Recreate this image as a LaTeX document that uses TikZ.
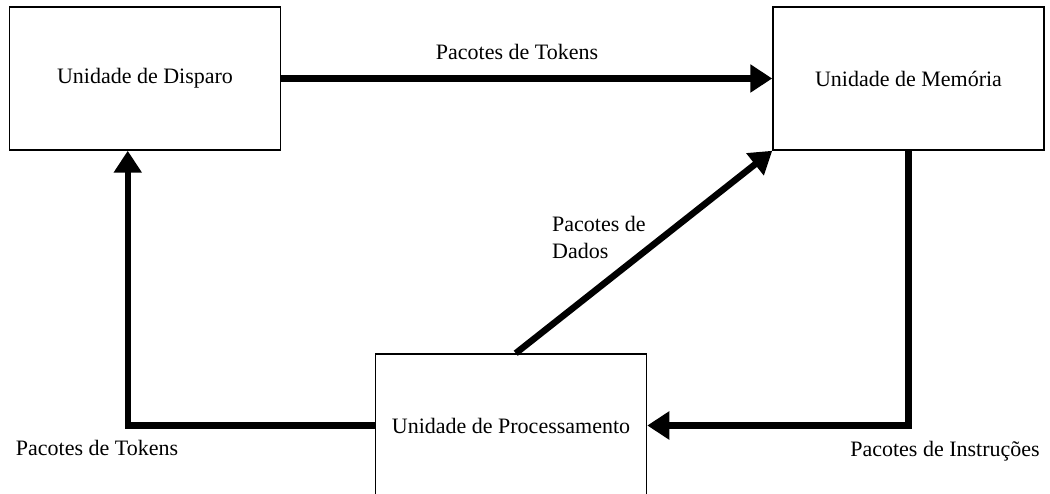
\documentclass[tikz,border=0pt]{standalone}
\usepackage{fontspec}
\setmainfont{Liberation Serif}
\usetikzlibrary{arrows.meta}
\begin{document}
\begin{tikzpicture}[x=1pt,y=-1pt,
  unit/.style={draw=black, line width=1.5pt, fill=white, minimum width=271pt,
    minimum height=143pt, inner sep=0pt, font=\fontsize{22}{27}\selectfont},
  flow/.style={line width=6.5pt, line join=miter, line cap=butt,
    -{Triangle[length=22pt,width=27pt]}},
  lbl/.style={font=\fontsize{22}{27}\selectfont, inner sep=0pt}]
  \clip (0,0) rectangle (1050,494);
  \fill[white] (0,0) rectangle (1050,494);

  % the three units
  \node[unit] (disp) at (145,78.5) {Unidade de Disparo};
  \node[unit] (mem)  at (908.5,78.5) {Unidade de Memória};
  \node[unit] (proc) at (511,425.5) {Unidade de Processamento};

  % packet flows between the units
  \draw[flow] (disp) -- (mem);
  \draw[flow] (proc.west) -| ([xshift=119pt]disp.south west);
  \draw[flow] ([xshift=136pt]mem.south west) |- (proc.east);
  \draw[flow] ([xshift=141pt]proc.north west) -- (mem.south west);

  % flow labels
  \node[lbl] (ltok) at (517,52) {Pacotes de Tokens};
  \node[lbl] (ltok2) at (97,448) {Pacotes de Tokens};
  \node[lbl] (lins) at (945,451) {Pacotes de Instruções};
  \node[lbl, align=left, anchor=north west] (ldad) at (552,216) {Pacotes de\\Dados};
\end{tikzpicture}
\end{document}
